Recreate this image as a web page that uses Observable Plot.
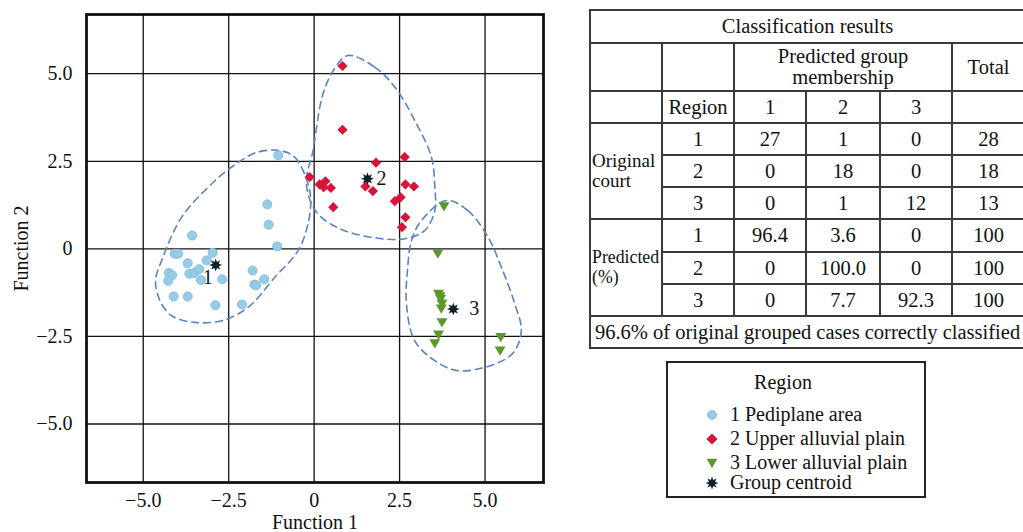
<!DOCTYPE html>
<html><head><meta charset="utf-8">
<script src="https://cdn.jsdelivr.net/npm/d3@7"></script>
<script src="https://cdn.jsdelivr.net/npm/@observablehq/plot@0.6"></script>
<style>
body{margin:0;background:#fff;font-family:"Liberation Serif",serif;color:#111;}
#wrap{position:relative;width:1023px;height:532px;overflow:hidden;}
#chart{position:absolute;left:0;top:0;}
#tbl{position:absolute;left:589px;top:9px;border-collapse:collapse;table-layout:fixed;width:435px;font-size:20.5px;}
#tbl td{border:2px solid #3a3a3a;text-align:center;padding:0;line-height:1.0;overflow:hidden;white-space:nowrap;}
#tbl td.lab{text-align:left;padding-left:1px;font-size:19px;line-height:1.05;}
#tbl td.lab2{text-align:left;padding-left:1px;font-size:17.8px;line-height:1.1;}
#legend{position:absolute;left:666px;top:361px;width:260px;height:137px;border:2px solid #222;box-sizing:border-box;font-size:20px;}
#legend .ttl{position:absolute;left:0;width:100%;top:8px;text-align:center;padding-right:26px;box-sizing:border-box;}
#legend .it{position:absolute;left:37px;height:22px;line-height:22px;white-space:nowrap;}
#legend .it svg{vertical-align:middle;margin-right:11px;position:relative;top:-1px;}
</style></head>
<body><div id="wrap"><div id="chart"></div>
<table id="tbl"><colgroup><col style="width:72px"><col style="width:72px"><col style="width:72px"><col style="width:74px"><col style="width:72px"><col style="width:73px"></colgroup><tbody id="tb"></tbody></table>
<div id="legend"></div>
</div>
<script>
// ---- Data ----
const pediplaneF1 = [-1.05,-1.37,-1.33,-1.08,-3.57,-4.08,-3.98,-2.97,-3.70,-3.14,-4.25,-4.15,-4.27,-3.65,-3.51,-3.36,-3.31,-2.69,-4.11,-3.70,-2.89,-2.11,-1.80,-1.75,-1.70,-1.46];
const pediplaneF2 = [2.67,1.27,0.69,0.07,0.38,-0.14,-0.14,-0.11,-0.41,-0.33,-0.69,-0.75,-0.91,-0.71,-0.69,-0.58,-0.89,-0.87,-1.36,-1.36,-1.61,-1.59,-0.62,-1.02,-1.04,-0.87];
const upperF1 = [0.83,0.83,1.81,2.65,-0.13,0.16,0.33,0.49,1.50,1.72,2.67,2.92,0.56,2.36,2.53,2.67,2.57,0.28];
const upperF2 = [5.22,3.40,2.46,2.62,2.05,1.84,1.93,1.74,1.78,1.65,1.84,1.78,1.19,1.36,1.47,0.90,0.62,1.76];
const lowerF1 = [3.80,3.62,3.64,3.70,3.74,3.72,3.74,3.64,3.53,5.46,5.44,3.68];
const lowerF2 = [1.21,-0.14,-1.29,-1.43,-1.57,-1.71,-2.10,-2.45,-2.70,-2.52,-2.91,-1.36];
const centroidIds = ["1","2","3"];
const centroidF1 = [-2.88,1.56,4.07];
const centroidF2 = [-0.46,2.00,-1.72];
// hand-drawn group outlines
const hull1F1 = [-1.05,-0.57,-0.18,-0.10,-0.18,-0.47,-1.15,-1.93,-2.71,-3.49,-4.17,-4.51,-4.64,-4.46,-3.88,-3.10,-2.42,-1.69];
const hull1F2 = [2.81,2.62,1.86,1.38,0.71,-0.05,-0.81,-1.67,-2.05,-2.10,-1.91,-1.48,-0.91,-0.33,0.90,1.76,2.33,2.75];
const hull2F1 = [0.99,1.77,2.36,2.94,3.43,3.53,3.53,3.23,2.65,1.97,0.89,0.21,-0.08,-0.23,-0.03,0.07,0.26,0.60];
const hull2F2 = [5.52,5.19,4.62,3.67,2.62,1.76,1.09,0.52,0.29,0.29,0.52,0.90,1.29,1.95,2.81,3.47,4.43,5.15];
const hull3F1 = [3.87,4.50,5.09,5.48,5.87,6.06,5.83,5.28,4.21,3.53,2.94,2.70,2.73,2.85,3.14];
const hull3F2 = [1.38,1.09,0.33,-0.53,-1.57,-2.33,-2.96,-3.29,-3.48,-3.19,-2.62,-1.57,-0.62,0.24,0.81];
const axisTicks = [-5,-2.5,0,2.5,5];
// table
const tableTitle = "Classification results";
const predictedHeader = "Predicted group membership";
const regionIds = ["1","2","3"];
const countRows = [["27","1","0","28"],["0","18","0","18"],["0","1","12","13"]];
const pctRows = [["96.4","3.6","0","100"],["0","100.0","0","100"],["0","7.7","92.3","100"]];
const footerText = "96.6% of original grouped cases correctly classified";
const legendTitle = "Region";
const legendLabels = ["1 Pediplane area","2 Upper alluvial plain","3 Lower alluvial plain","Group centroid"];

// ---- build ----
const zip = (a,b,extra={}) => a.map((v,i)=>({f1:v,f2:b[i],...extra}));
const pts1 = zip(pediplaneF1,pediplaneF2);
const pts2 = zip(upperF1,upperF2);
const pts3 = zip(lowerF1,lowerF2);
const cents = centroidF1.map((v,i)=>({f1:v,f2:centroidF2[i],id:centroidIds[i]}));
const h1 = zip(hull1F1,hull1F2), h2 = zip(hull2F1,hull2F2), h3 = zip(hull3F1,hull3F2);

const triDown = {draw(ctx,size){const r=Math.sqrt(size/Math.PI);ctx.moveTo(-r*1.1,-r*0.85);ctx.lineTo(r*1.1,-r*0.85);ctx.lineTo(0,r*1.0);ctx.closePath();}};
const burst = {draw(ctx,size){const r=Math.sqrt(size/Math.PI);const n=8;for(let i=0;i<2*n;i++){const a=i*Math.PI/n-Math.PI/2;const rr=i%2===0?r:r*0.5;const x=rr*Math.cos(a),y=rr*Math.sin(a);if(i===0)ctx.moveTo(x,y);else ctx.lineTo(x,y);}ctx.closePath();}};

const fmt = d => d===0 ? "0" : d.toFixed(1).replace("-","\u2212");
const hullStyle = {x:"f1",y:"f2",curve:"catmull-rom-closed",stroke:"#5a83c2",strokeWidth:1.6,strokeDasharray:"7,5"};
const blue="#97cbe6", red="#d8143a", green="#5b982c";

const plot = Plot.plot({
  width:560, height:532,
  marginLeft:86, marginRight:17, marginTop:14, marginBottom:50,
  style:{fontFamily:"Liberation Serif, serif",fontSize:"20px",color:"#111",background:"#fff"},
  x:{domain:[-6.66,6.71],ticks:axisTicks,tickFormat:fmt,label:"Function 1",labelAnchor:"center",labelArrow:false},
  y:{domain:[-6.67,6.69],ticks:axisTicks,tickFormat:fmt,label:"Function 2",labelAnchor:"center",labelArrow:false},
  marks:[
    Plot.gridX(axisTicks,{stroke:"#111",strokeOpacity:1,strokeWidth:1.3}),
    Plot.gridY(axisTicks,{stroke:"#111",strokeOpacity:1,strokeWidth:1.3}),
    Plot.axisX(axisTicks,{tickSize:0,tickPadding:10,tickFormat:fmt,fontSize:20,label:"Function 1",labelOffset:46,labelAnchor:"center",labelArrow:false}),
    Plot.axisY(axisTicks,{tickSize:0,tickPadding:14,tickFormat:fmt,fontSize:20,label:"Function 2",labelOffset:73,labelAnchor:"center",labelArrow:false}),
    Plot.line(h1,hullStyle),
    Plot.line(h2,hullStyle),
    Plot.line(h3,hullStyle),
    Plot.dot(pts1,{x:"f1",y:"f2",r:4.5,fill:blue,stroke:"#84bfe0",strokeWidth:1}),
    Plot.dot(pts2,{x:"f1",y:"f2",r:4.6,symbol:"diamond2",fill:red,stroke:"none"}),
    Plot.dot(pts3,{x:"f1",y:"f2",r:5,symbol:triDown,fill:green,stroke:"none"}),
    Plot.dot(cents,{x:"f1",y:"f2",r:6.5,symbol:burst,fill:"#10202a",stroke:"none"}),
    Plot.text(cents.filter(d=>d.id==="1"),{x:"f1",y:"f2",text:"id",dx:-8,dy:13,fontSize:20}),
    Plot.text(cents.filter(d=>d.id==="2"),{x:"f1",y:"f2",text:"id",dx:14,dy:0,fontSize:20}),
    Plot.text(cents.filter(d=>d.id==="3"),{x:"f1",y:"f2",text:"id",dx:21,dy:-1,fontSize:20}),
    Plot.frame({stroke:"#111",strokeWidth:2.8})
  ]
});
document.getElementById("chart").appendChild(plot);

// table
const rowH = [33,48,32,32,32,32,33,32,32,32];
let html = "";
html += `<tr style="height:${rowH[0]}px"><td colspan="6">${tableTitle}</td></tr>`;
html += `<tr style="height:${rowH[1]}px"><td></td><td></td><td colspan="3" style="white-space:normal;line-height:1.02">${predictedHeader.replace("group ","group<br>")}</td><td>Total</td></tr>`;
html += `<tr style="height:${rowH[2]}px"><td></td><td>Region</td>${regionIds.map(r=>`<td>${r}</td>`).join("")}<td></td></tr>`;
countRows.forEach((row,i)=>{
  html += `<tr style="height:${rowH[3+i]}px">${i===0?`<td rowspan="3" class="lab">Original<br>court</td>`:""}<td>${regionIds[i]}</td>${row.map(v=>`<td>${v}</td>`).join("")}</tr>`;
});
pctRows.forEach((row,i)=>{
  html += `<tr style="height:${rowH[6+i]}px">${i===0?`<td rowspan="3" class="lab2">Predicted<br>(%)</td>`:""}<td>${regionIds[i]}</td>${row.map(v=>`<td>${v}</td>`).join("")}</tr>`;
});
html += `<tr style="height:${rowH[9]}px"><td colspan="6" style="font-size:20.5px">${footerText}</td></tr>`;
document.getElementById("tb").innerHTML = html;

// legend
const icons = [
  `<svg width="14" height="14" viewBox="-7 -7 14 14"><circle r="4.4" fill="${blue}" stroke="#84bfe0"/></svg>`,
  `<svg width="14" height="14" viewBox="-7 -7 14 14"><path d="M0,-5.6L5.6,0L0,5.6L-5.6,0Z" fill="${red}"/></svg>`,
  `<svg width="14" height="14" viewBox="-7 -7 14 14"><path d="M-5.5,-4.2L5.5,-4.2L0,5Z" fill="${green}"/></svg>`,
  `<svg width="14" height="14" viewBox="-7 -7 14 14"><path d="${(()=>{const p=d3.path();burst.draw(p,6.5*6.5*Math.PI);return p.toString();})()}" fill="#10202a"/></svg>`
];
const tops = [40,64,88,108];
let lg = `<div class="ttl">${legendTitle}</div>`;
legendLabels.forEach((t,i)=>{ lg += `<div class="it" style="top:${tops[i]}px">${icons[i]}${t}</div>`; });
document.getElementById("legend").innerHTML = lg;
</script>
</body></html>
